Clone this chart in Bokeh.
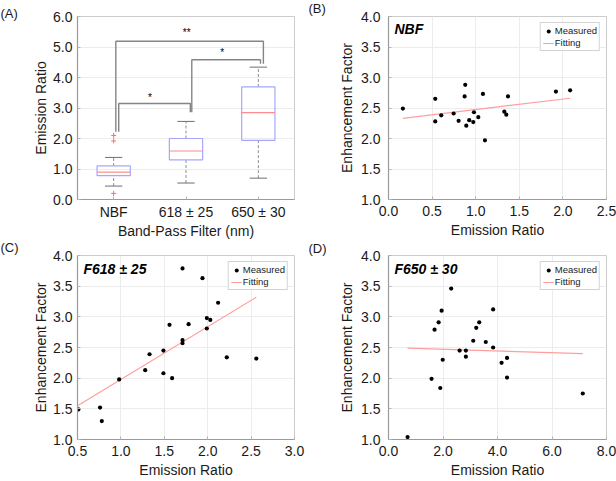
from bokeh.plotting import figure
from bokeh.layouts import gridplot
from bokeh.models import (Legend, LegendItem, FixedTicker, Range1d, Label,
                          PrintfTickFormatter, Title)
from bokeh.embed import file_html
from bokeh.resources import INLINE
from bokeh.core.properties import value

FONT = "Liberation Sans"

# ---------------- Panel A: box plot ----------------
categories = ["NBF", "618 ± 25", "650 ± 30"]
cat_pos = [1, 2, 3]
box_q1 = [0.78, 1.30, 1.94]
box_med = [0.90, 1.59, 2.85]
box_q3 = [1.10, 2.00, 3.69]
whisk_lo = [0.44, 0.54, 0.70]
whisk_hi = [1.38, 2.56, 4.34]
outlier_x = [1, 1, 1]
outlier_y = [2.10, 1.92, 0.20]

# significance brackets: left x, right x, top y, left-foot y, right-foot y, mark
br_x0 = [1.07, 2.08, 1.03]
br_x1 = [2.06, 3.03, 3.07]
br_top = [3.15, 4.58, 5.19]
br_lfoot = [2.22, 2.86, 2.22]
br_rfoot = [2.86, 4.45, 4.45]
br_mark = ["*", "*", "**"]
br_mark_x = [1.50, 2.50, 2.01]
br_mark_y = [3.36, 4.83, 5.49]

# ---------------- Panel B: NBF ----------------
nbf_x = [0.165, 0.536, 0.536, 0.605, 0.747, 0.804, 0.880, 0.873, 0.892, 0.926,
         0.972, 0.980, 1.030, 1.083, 1.106, 1.328, 1.351, 1.370, 1.920, 2.083]
nbf_y = [2.49, 2.65, 2.28, 2.38, 2.41, 2.29, 2.88, 2.69, 2.21, 2.30,
         2.27, 2.43, 2.35, 2.73, 1.97, 2.44, 2.39, 2.69, 2.77, 2.79]
nbf_fit_x = [0.165, 2.083]
nbf_fit_y = [2.33, 2.66]

# ---------------- Panel C: F618 ± 25 ----------------
f618_x = [0.51, 0.76, 0.78, 0.98, 1.28, 1.33, 1.49, 1.49, 1.59, 1.56, 1.71,
          1.71, 1.71, 1.78, 1.94, 1.99, 1.99, 2.03, 2.12, 2.22, 2.56]
f618_y = [1.49, 1.52, 1.30, 1.98, 2.13, 2.39, 2.45, 2.08, 2.00, 2.87, 2.62,
          2.57, 3.79, 2.88, 3.63, 2.98, 2.81, 2.95, 3.23, 2.34, 2.32]
f618_fit_x = [0.51, 2.56]
f618_fit_y = [1.56, 3.32]

# ---------------- Panel D: F650 ± 30 ----------------
f650_x = [0.70, 1.58, 1.69, 1.84, 1.90, 1.95, 1.99, 2.30, 2.61, 2.84, 2.84,
          3.11, 3.22, 3.33, 3.57, 3.84, 3.84, 4.15, 4.35, 4.35, 7.13]
f650_y = [1.04, 1.99, 2.79, 2.91, 1.84, 3.10, 2.30, 3.46, 2.45, 2.45, 2.35,
          2.61, 2.82, 2.91, 2.59, 3.12, 2.50, 2.25, 2.33, 2.01, 1.75]
f650_fit_x = [0.70, 7.13]
f650_fit_y = [2.49, 2.40]

ef_ticks = [1.0, 1.5, 2.0, 2.5, 3.0, 3.5, 4.0]


def make_fig(w, h, bl, br, bt, bb, xr, yr):
    p = figure(width=w, height=h, output_backend="svg", toolbar_location=None,
               x_range=Range1d(*xr), y_range=Range1d(*yr),
               min_border_left=bl, min_border_right=br,
               min_border_top=bt, min_border_bottom=bb)
    p.background_fill_color = "white"
    p.border_fill_color = "white"
    p.outline_line_color = "#cccccc"
    p.outline_line_width = 1
    for ax in (p.xaxis[0], p.yaxis[0]):
        ax.axis_label_text_font = FONT
        ax.axis_label_text_font_size = "14px"
        ax.axis_label_text_font_style = "normal"
        ax.axis_label_text_color = "#1a1a1a"
        ax.major_label_text_font = FONT
        ax.major_label_text_font_size = "14px"
        ax.major_label_text_color = "#1a1a1a"
        ax.axis_line_color = "#9a9a9a"
        ax.axis_line_width = 1.2
        ax.major_tick_in = 3
        ax.major_tick_out = 0
        ax.major_tick_line_color = "#b4b4b4"
        ax.minor_tick_line_color = None
    p.xaxis.major_label_standoff = 4
    p.xaxis.axis_label_standoff = 0
    p.yaxis.major_label_standoff = 5
    p.yaxis.axis_label_standoff = 1
    p.grid.grid_line_color = "#ececec"
    p.grid.grid_line_width = 1
    return p


def panel_letter(p, text, off, standoff, valign):
    p.add_layout(Title(text=text, align="left", offset=off, standoff=standoff,
                       vertical_align=valign, text_font=FONT,
                       text_font_size="13px", text_font_style="normal",
                       text_color="#1a1a1a"), "above")


# ---------- A ----------
pA = make_fig(308, 241, 77, 14, 16, 41, (0.5, 3.5), (0.0, 6.0))
pA.xaxis.axis_label = "Band-Pass Filter (nm)"
pA.yaxis.axis_label = "Emission Ratio"
pA.xaxis.ticker = FixedTicker(ticks=cat_pos)
pA.xaxis.major_label_overrides = {c: n for c, n in zip(cat_pos, categories)}
pA.yaxis.ticker = FixedTicker(ticks=[0, 1, 2, 3, 4, 5, 6])
pA.yaxis.formatter = PrintfTickFormatter(format="%.1f")
pA.xgrid.grid_line_color = None

half_box = 0.23
half_cap = 0.12
pA.segment(x0=cat_pos, y0=box_q3, x1=cat_pos, y1=whisk_hi,
           line_color="#8c8c8c", line_dash="3 2", line_width=1)
pA.segment(x0=cat_pos, y0=whisk_lo, x1=cat_pos, y1=box_q1,
           line_color="#8c8c8c", line_dash="3 2", line_width=1)
pA.segment(x0=[c - half_cap for c in cat_pos], y0=whisk_hi,
           x1=[c + half_cap for c in cat_pos], y1=whisk_hi,
           line_color="#6e6e6e", line_width=1)
pA.segment(x0=[c - half_cap for c in cat_pos], y0=whisk_lo,
           x1=[c + half_cap for c in cat_pos], y1=whisk_lo,
           line_color="#6e6e6e", line_width=1)
pA.vbar(x=cat_pos, width=2 * half_box, bottom=box_q1, top=box_q3,
        fill_color=None, line_color="#a6a6ff", line_width=1.2)
pA.segment(x0=[c - half_box for c in cat_pos], y0=box_med,
           x1=[c + half_box for c in cat_pos], y1=box_med,
           line_color="#ff8c8c", line_width=1.2)
pA.scatter(outlier_x, outlier_y, marker="cross", size=5,
           line_color="#ff6b6b", line_width=1)
bx = [[a, a, b, b] for a, b in zip(br_x0, br_x1)]
by = [[lf, t, t, rf] for lf, t, rf in zip(br_lfoot, br_top, br_rfoot)]
pA.multi_line(xs=bx, ys=by, line_color="#858585", line_width=1.4)
pA.text(x=br_mark_x, y=br_mark_y, text=br_mark, text_font=value(FONT),
        text_font_size="10px", text_align="center", text_baseline="middle",
        text_color="black")
panel_letter(pA, "(A)", -77, -9, "bottom")


def scatter_panel(w, h, bl, br, bt, bb, xr, xticks, xs, ys, fx, fy, title):
    p = make_fig(w, h, bl, br, bt, bb, xr, (1.0, 4.0))
    p.xaxis.axis_label = "Emission Ratio"
    p.yaxis.axis_label = "Enhancement Factor"
    p.xaxis.ticker = FixedTicker(ticks=xticks)
    p.yaxis.ticker = FixedTicker(ticks=ef_ticks)
    p.xaxis.formatter = PrintfTickFormatter(format="%.1f")
    p.yaxis.formatter = PrintfTickFormatter(format="%.1f")
    p.xaxis.major_label_standoff = 6
    p.xaxis.axis_label_standoff = 3
    r_fit = p.line(fx, fy, line_color="#ff9e9e", line_width=1.2)
    r_meas = p.scatter(xs, ys, size=4.2, fill_color="black", line_color=None)
    leg = Legend(items=[LegendItem(label="Measured", renderers=[r_meas]),
                        LegendItem(label="Fitting", renderers=[r_fit])],
                 location="top_right")
    leg.label_text_font = FONT
    leg.label_text_font_size = "9.5px"
    leg.label_text_color = "#1a1a1a"
    leg.label_height = 10
    leg.label_standoff = 1
    leg.glyph_height = 10
    leg.glyph_width = 11
    leg.spacing = 1
    leg.padding = 2
    leg.margin = 6
    leg.border_line_color = "#a8a8a8"
    leg.border_line_width = 1
    leg.background_fill_color = "white"
    leg.background_fill_alpha = 1.0
    p.add_layout(leg)
    p.add_layout(Label(x=6, y=h - bt - bb - 5, x_units="screen",
                       y_units="screen", text=title, text_font=FONT,
                       text_font_size="14px", text_font_style="bold italic",
                       text_color="black", text_baseline="top"))
    return p


pB = scatter_panel(308, 241, 80, 10, 16, 41, (0.0, 2.5),
                   [0.0, 0.5, 1.0, 1.5, 2.0, 2.5], nbf_x, nbf_y,
                   nbf_fit_x, nbf_fit_y, "NBF")
pB.yaxis.major_label_standoff = 8
pB.yaxis.axis_label_standoff = 3
panel_letter(pB, "(B)", -80, -2, "top")

pC = scatter_panel(308, 240, 77, 14, 14, 42, (0.5, 3.0),
                   [0.5, 1.0, 1.5, 2.0, 2.5, 3.0], f618_x, f618_y,
                   f618_fit_x, f618_fit_y, "F618 ± 25")
panel_letter(pC, "(C)", -77, -3, "top")

pD = scatter_panel(308, 240, 80, 10, 14, 42, (0.0, 8.0),
                   [0.0, 2.0, 4.0, 6.0, 8.0], f650_x, f650_y,
                   f650_fit_x, f650_fit_y, "F650 ± 30")
pD.yaxis.major_label_standoff = 8
pD.yaxis.axis_label_standoff = 3
panel_letter(pD, "(D)", -80, -4, "top")

grid = gridplot([[pA, pB], [pC, pD]], toolbar_location=None)

with open("out.html", "w") as f:
    f.write(file_html(grid, INLINE))
